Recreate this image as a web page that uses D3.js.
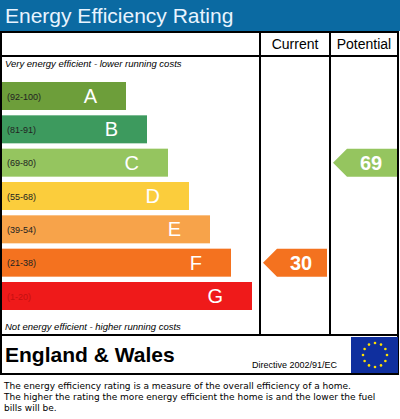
<!DOCTYPE html><html><head><script src="https://cdn.jsdelivr.net/npm/d3@7"></script>
<style>body{margin:0;background:#fff}svg{display:block}</style></head><body><svg id="c" width="400" height="419"></svg>
<script>
const bands=["A","B","C","D","E","F","G"];
const ranges=["(92-100)","(81-91)","(69-80)","(55-68)","(39-54)","(21-38)","(1-20)"];
const minScore=[92,81,69,55,39,21,1];
const colors=["#6d9e3a","#3d9a5e","#95c55f","#fbcd3c","#f7a34a","#f4721f","#ef1a1a"];
const currentScore=30, potentialScore=69;
const svg=d3.select("#c");
const F="Liberation Sans, Arial, sans-serif";
svg.append("rect").attr("width",400).attr("height",31).attr("fill","#0b6aa2");
svg.append("text").attr("x",5).attr("y",23).attr("font-family",F).attr("font-size",21).attr("fill","#e8f4ff").text("Energy Efficiency Rating");
const g=svg.append("g").attr("fill","none").attr("stroke","#000").attr("stroke-width",2);
g.append("rect").attr("x",1).attr("y",32).attr("width",397).attr("height",342);
g.append("line").attr("x1",1).attr("x2",398).attr("y1",56).attr("y2",56);
g.append("line").attr("x1",260).attr("x2",260).attr("y1",32).attr("y2",335);
g.append("line").attr("x1",330).attr("x2",330).attr("y1",32).attr("y2",335);
g.append("line").attr("x1",1).attr("x2",398).attr("y1",335).attr("y2",335);
svg.append("text").attr("x",295).attr("y",49).attr("text-anchor","middle").attr("font-family",F).attr("font-size",14).text("Current");
svg.append("text").attr("x",364).attr("y",49).attr("text-anchor","middle").attr("font-family",F).attr("font-size",14).text("Potential");
svg.append("text").attr("x",5).attr("y",67).attr("font-family",F).attr("font-size",9.5).attr("font-style","italic").text("Very energy efficient - lower running costs");
svg.append("text").attr("x",5).attr("y",330).attr("font-family",F).attr("font-size",9.5).attr("font-style","italic").text("Not energy efficient - higher running costs");
const y=d3.scaleBand().domain(bands).range([82,310]).paddingInner(0.16).paddingOuter(0.0);
const w=d3.scaleLinear().domain([0,6]).range([124,250]);
bands.forEach((b,i)=>{
  svg.append("rect").attr("x",2).attr("y",y(b)).attr("width",w(i)).attr("height",y.bandwidth()).attr("fill",colors[i]);
  svg.append("text").attr("x",7).attr("y",y(b)+y.bandwidth()/2+3.5).attr("font-family",F).attr("font-size",9).attr("fill",i==6?"#c41010":"#222").text(ranges[i]);
  svg.append("text").attr("x",w(i)-27).attr("y",y(b)+y.bandwidth()/2+7).attr("text-anchor","end").attr("font-family",F).attr("font-size",20).attr("fill","#fff").text(b);
});
function band(s){return bands[minScore.findIndex(m=>s>=m)];}
function arrow(x0,x1,s){
  const b=band(s),i=bands.indexOf(b),t=y(b),h=y.bandwidth();
  svg.append("path").attr("d",`M${x0},${t+h/2}L${x0+14},${t}H${x1}V${t+h}H${x0+14}Z`).attr("fill",colors[i]);
  svg.append("text").attr("x",(x0+x1)/2+6).attr("y",t+h/2+7).attr("text-anchor","middle").attr("font-family",F).attr("font-weight","bold").attr("font-size",20).attr("fill","#fff").text(s);
}
arrow(263,327,currentScore);arrow(333,397,potentialScore);
svg.append("text").attr("x",5).attr("y",362).attr("font-family",F).attr("font-weight","bold").attr("font-size",21).text("England & Wales");
svg.append("text").attr("x",252).attr("y",368).attr("font-family",F).attr("font-size",9).text("Directive 2002/91/EC");
svg.append("rect").attr("x",351).attr("y",337).attr("width",47).attr("height",36).attr("fill","#0f2f9e");
d3.range(12).forEach(k=>{const a=k*Math.PI/6;svg.append("circle").attr("cx",375+12*Math.cos(a)).attr("cy",355+12*Math.sin(a)).attr("r",1.3).attr("fill","#ffe000");});
["The energy efficiency rating is a measure of the overall efficiency of a home.","The higher the rating the more energy efficient the home is and the lower the fuel","bills will be."].forEach((t,i)=>svg.append("text").attr("x",4).attr("y",389+i*11).attr("font-family","DejaVu Sans, sans-serif").attr("font-size",9).text(t));
</script></body></html>
